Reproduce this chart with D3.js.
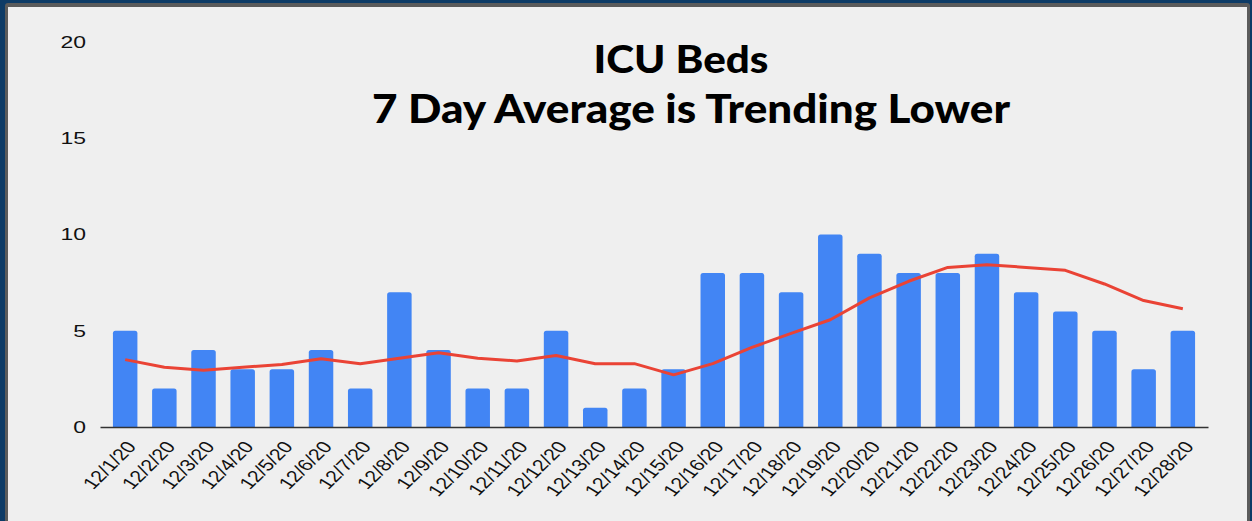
<!DOCTYPE html>
<html>
<head>
<meta charset="utf-8">
<script src="https://cdn.jsdelivr.net/npm/d3@7"></script>
<style>
  html, body { margin: 0; padding: 0; background: #0d3b66; }
  svg { display: block; }
</style>
</head>
<body>
<svg id="icu-chart"></svg>
<script>
// data
const dates = ["12/1/20","12/2/20","12/3/20","12/4/20","12/5/20","12/6/20","12/7/20",
  "12/8/20","12/9/20","12/10/20","12/11/20","12/12/20","12/13/20","12/14/20",
  "12/15/20","12/16/20","12/17/20","12/18/20","12/19/20","12/20/20","12/21/20",
  "12/22/20","12/23/20","12/24/20","12/25/20","12/26/20","12/27/20","12/28/20"];
const beds = [5,2,4,3,3,4,2,7,4,2,2,5,1,2,3,8,8,7,10,9,8,8,9,7,6,5,3,5];
const avg7 = [3.5,3.1,2.95,3.1,3.25,3.55,3.29,3.57,3.86,3.57,3.43,3.71,3.29,3.29,
  2.71,3.29,4.14,4.86,5.57,6.71,7.57,8.29,8.43,8.29,8.14,7.43,6.57,6.14];
const yTicks = [0,5,10,15,20];
const title = ["ICU Beds", "7 Day Average is Trending Lower"];

const W = 1252, H = 521;

const svg = d3.select("#icu-chart")
    .attr("width", W)
    .attr("height", H);

// panel with grey frame
svg.append("rect")
    .attr("x", 5).attr("y", 3)
    .attr("width", 1245).attr("height", 540)
    .attr("rx", 3)
    .attr("fill", "#5b5b5b");
svg.append("rect")
    .attr("x", 8).attr("y", 7)
    .attr("width", 1239).attr("height", 530)
    .attr("fill", "#efefef");

// scales
const xScale = d3.scaleBand()
    .domain(dates)
    .range([100, 1208])
    .paddingInner(0.375)
    .paddingOuter(0.33);

const yScale = d3.scaleLinear()
    .domain([0, 20])
    .range([427, 42]);

// the original screenshot is stretched sideways, so text is widened a bit
const stretch = 1.3;

// y labels (no grid, no axis line)
svg.append("g")
    .attr("class", "y axis")
    .selectAll("text")
    .data(yTicks)
    .enter()
    .append("text")
    .attr("transform", d => `translate(86,${yScale(d)}) scale(${stretch + 0.05},1)`)
    .attr("dy", "0.35em")
    .attr("text-anchor", "end")
    .style("font-family", "'Liberation Sans', Arial, sans-serif")
    .style("font-size", "17px")
    .attr("fill", "#111")
    .text(d => d);

// bars, rounded top corners only
const r = 2.5;
svg.append("g")
    .attr("class", "bars")
    .selectAll("path")
    .data(beds)
    .enter()
    .append("path")
    .attr("fill", "#4285f4")
    .attr("d", (d, i) => {
        const x0 = xScale(dates[i]), w = xScale.bandwidth();
        const y0 = yScale(d), y1 = yScale(0);
        return `M${x0},${y1}V${y0 + r}Q${x0},${y0} ${x0 + r},${y0}` +
               `H${x0 + w - r}Q${x0 + w},${y0} ${x0 + w},${y0 + r}V${y1}Z`;
    });

// x axis
const xAxis = svg.append("g")
    .attr("class", "x axis")
    .attr("transform", `translate(0,${yScale(0)})`)
    .call(d3.axisBottom(xScale).tickSize(0).tickSizeOuter(0));

xAxis.select(".domain")
    .attr("stroke", "#333")
    .attr("stroke-width", 1.5);

xAxis.selectAll(".tick text")
    .style("font-family", "'Liberation Sans', Arial, sans-serif")
    .style("font-size", "16.5px")
    .attr("fill", "#111")
    .attr("text-anchor", "end")
    .attr("dy", null)
    .attr("y", null)
    .attr("transform", `translate(12,20) scale(${stretch},1) rotate(-52)`);

// 7 day average line
const line = d3.line()
    .x((d, i) => xScale(dates[i]) + xScale.bandwidth() / 2)
    .y(d => yScale(d));

svg.append("path")
    .datum(avg7)
    .attr("class", "line")
    .attr("d", line)
    .attr("fill", "none")
    .attr("stroke", "#ea4335")
    .attr("stroke-width", 3)
    .attr("stroke-linejoin", "round");

//**********title*************//
svg.append("g")
    .attr("class", "title")
    .selectAll("text")
    .data(title)
    .enter()
    .append("text")
    .attr("x", (d, i) => i == 0 ? 681 : 691)
    .attr("y", (d, i) => i == 0 ? 73 : 123)
    .attr("text-anchor", "middle")
    .attr("textLength", (d, i) => i == 0 ? 175 : 638)
    .attr("lengthAdjust", "spacingAndGlyphs")
    .style("font-family", "Lato, 'Open Sans', sans-serif")
    .style("font-weight", 900)
    .style("font-size", (d, i) => i == 0 ? "37px" : "39px")
    .attr("fill", "#000")
    .text(d => d);
</script>
</body>
</html>
